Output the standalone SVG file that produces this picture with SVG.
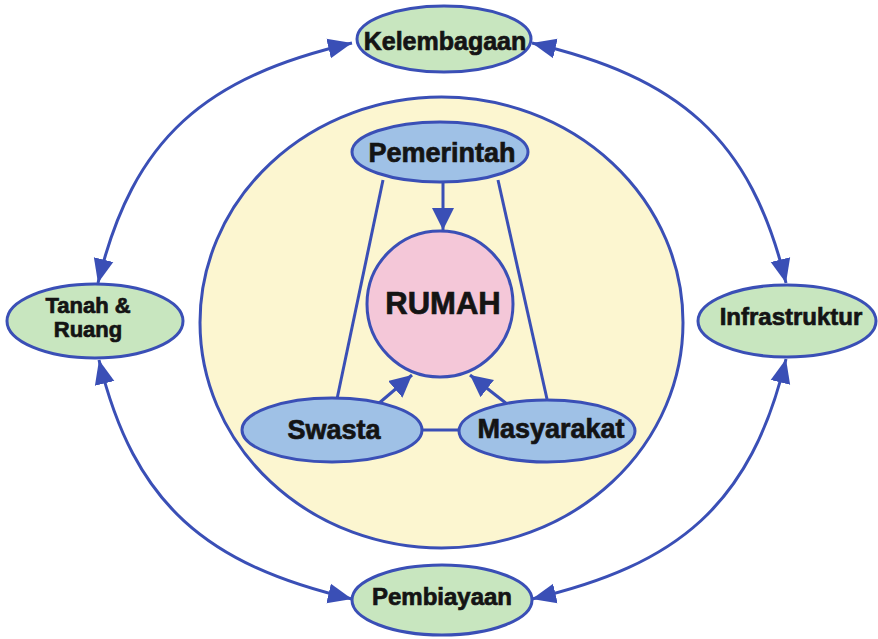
<svg xmlns="http://www.w3.org/2000/svg" width="878" height="639" viewBox="0 0 878 639">
  <style>
    .edge { fill: none; stroke: #3a4fb6; stroke-width: 3; }
    .node { stroke: #3a4fb6; stroke-width: 3; }
    .green { fill: #c8e6bf; }
    .blue { fill: #9fc1e6; }
    .pink { fill: #f4c7d8; }
    .yellow { fill: #fcf6d0; }
    .lbl { font-family: "Liberation Sans", Arial, Helvetica, sans-serif; font-weight: bold; fill: #141414; stroke: #141414; stroke-width: 0.7; text-anchor: middle; }
  </style>
  <defs>
    <marker id="ah" markerUnits="userSpaceOnUse" markerWidth="26" markerHeight="22" refX="24" refY="11" orient="auto-start-reverse">
      <path d="M0,1 L24,11 L0,21 z" fill="#3a4fb6"/>
    </marker>
    <marker id="ahs" markerUnits="userSpaceOnUse" markerWidth="24" markerHeight="22" refX="22" refY="11" orient="auto">
      <path d="M0,0 L22,11 L0,22 z" fill="#3a4fb6"/>
    </marker>
  </defs>
  <rect x="0" y="0" width="878" height="639" fill="#ffffff"/>

  <g id="container">
    <ellipse class="node yellow" cx="441.5" cy="322.5" rx="241.5" ry="225.5"/>
  </g>

  <g id="connectors">
    <path class="edge" d="M98,283 C133,137 206,77 352,43" marker-start="url(#ah)" marker-end="url(#ah)"/>
    <path class="edge" d="M786,283 C751,137 678,77 532,43" marker-start="url(#ah)" marker-end="url(#ah)"/>
    <path class="edge" d="M99,360 C134,505 207,565 352,599" marker-start="url(#ah)" marker-end="url(#ah)"/>
    <path class="edge" d="M786,359 C751,505 678,565 532,599" marker-start="url(#ah)" marker-end="url(#ah)"/>
    <line class="edge" x1="383" y1="180" x2="337" y2="399"/>
    <line class="edge" x1="498" y1="180" x2="547" y2="399"/>
    <line class="edge" x1="420" y1="430" x2="462" y2="430"/>
    <line class="edge" x1="443" y1="182" x2="443" y2="230" marker-end="url(#ahs)"/>
    <line class="edge" x1="378" y1="404" x2="412" y2="375" marker-end="url(#ahs)"/>
    <line class="edge" x1="507" y1="404" x2="470" y2="375" marker-end="url(#ahs)"/>
  </g>

  <g id="kelembagaan">
    <ellipse class="node green" cx="444" cy="39" rx="87" ry="33"/>
    <text class="lbl" x="445" y="50" font-size="25">Kelembagaan</text>
  </g>
  <g id="tanah-ruang">
    <ellipse class="node green" cx="95" cy="321" rx="88" ry="37"/>
    <text class="lbl" x="88" y="313" font-size="22">Tanah &amp;</text>
    <text class="lbl" x="88" y="337" font-size="22">Ruang</text>
  </g>
  <g id="infrastruktur">
    <ellipse class="node green" cx="787" cy="321" rx="89" ry="36"/>
    <text class="lbl" x="791" y="325" font-size="24">Infrastruktur</text>
  </g>
  <g id="pembiayaan">
    <ellipse class="node green" cx="442" cy="600" rx="90" ry="35"/>
    <text class="lbl" x="442" y="605" font-size="24">Pembiayaan</text>
  </g>
  <g id="pemerintah">
    <ellipse class="node blue" cx="440" cy="152" rx="88" ry="30"/>
    <text class="lbl" x="442" y="162" font-size="27">Pemerintah</text>
  </g>
  <g id="rumah">
    <ellipse class="node pink" cx="440" cy="304" rx="73" ry="73"/>
    <text class="lbl" x="443" y="314" font-size="31">RUMAH</text>
  </g>
  <g id="swasta">
    <ellipse class="node blue" cx="332" cy="430" rx="90" ry="32"/>
    <text class="lbl" x="334" y="439" font-size="27">Swasta</text>
  </g>
  <g id="masyarakat">
    <ellipse class="node blue" cx="547" cy="431" rx="88" ry="31"/>
    <text class="lbl" x="551" y="438" font-size="27">Masyarakat</text>
  </g>
</svg>
